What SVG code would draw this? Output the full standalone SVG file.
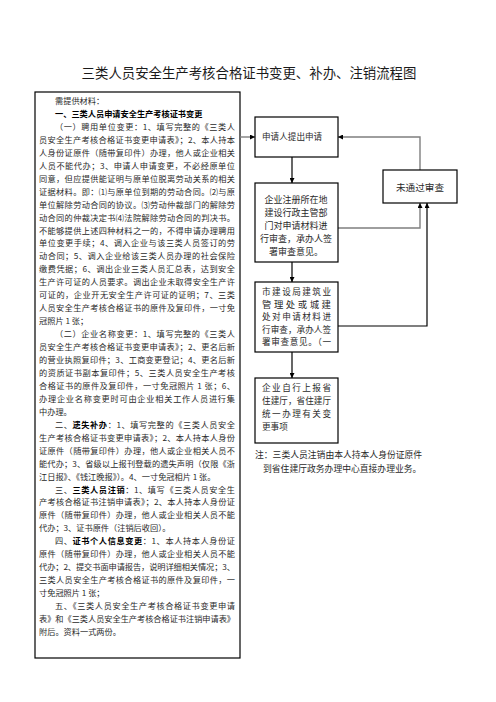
<svg xmlns="http://www.w3.org/2000/svg" width="496" height="702" viewBox="0 0 496 702">
<style>
text{font-family:"Noto Sans CJK SC","Noto Sans",sans-serif;fill:#2a2a2a}
.t{font-size:13.4px;fill:#1a1a1a}
.b{font-size:8.2px}
.bd{font-weight:bold;fill:#000}
.n{font-size:8.8px}
.box{fill:#fff;stroke:#000;stroke-width:1.2}
.cg{fill:none;stroke:#7f7f7f;stroke-width:1.4}
.ck{fill:none;stroke:#000;stroke-width:1.2}
</style>
<defs>
<marker id="ah" viewBox="0 0 10 10" refX="10" refY="5" markerWidth="5" markerHeight="5" markerUnits="userSpaceOnUse" orient="auto">
<path d="M0,0 L10,5 L0,10 Z" fill="#000"/>
</marker>
</defs>
<rect width="496" height="702" fill="#fff"/>
<text class="t" x="249" y="78" text-anchor="middle">三类人员安全生产考核合格证书变更、补办、注销流程图</text>

<g id="materials">
<rect class="box" x="35" y="92" width="205" height="566"/>
<g class="b">
<text x="55" y="104">需提供材料：</text>
<text x="55" y="116.95" class="bd">一、三类人员申请安全生产考核证书变更</text>
<text x="55" y="129.9" textLength="180" lengthAdjust="spacing">（一）聘用单位变更：1、填写完整的《三类人</text>
<text x="39" y="142.85" textLength="196" lengthAdjust="spacing">员安全生产考核合格证书变更申请表》；2、本人持本</text>
<text x="39" y="155.8" textLength="196" lengthAdjust="spacing">人身份证原件（随带复印件）办理，他人或企业相关</text>
<text x="39" y="168.75" textLength="196" lengthAdjust="spacing">人员不能代办；3、申请人申请变更，不必经原单位</text>
<text x="39" y="181.7" textLength="196" lengthAdjust="spacing">同意，但应提供能证明与原单位脱离劳动关系的相关</text>
<text x="39" y="194.65" textLength="196" lengthAdjust="spacing">证据材料。即：⑴与原单位到期的劳动合同。⑵与原</text>
<text x="39" y="207.6" textLength="196" lengthAdjust="spacing">单位解除劳动合同的协议。⑶劳动仲裁部门的解除劳</text>
<text x="39" y="220.55" textLength="196" lengthAdjust="spacing">动合同的仲裁决定书⑷法院解除劳动合同的判决书。</text>
<text x="39" y="233.5" textLength="196" lengthAdjust="spacing">不能够提供上述四种材料之一的，不得申请办理聘用</text>
<text x="39" y="246.45" textLength="196" lengthAdjust="spacing">单位变更手续；4、调入企业与该三类人员签订的劳</text>
<text x="39" y="259.4" textLength="196" lengthAdjust="spacing">动合同；5、调入企业给该三类人员办理的社会保险</text>
<text x="39" y="272.35" textLength="196" lengthAdjust="spacing">缴费凭据；6、调出企业三类人员汇总表，达到安全</text>
<text x="39" y="285.3" textLength="196" lengthAdjust="spacing">生产许可证的人员要求。调出企业未取得安全生产许</text>
<text x="39" y="298.25" textLength="196" lengthAdjust="spacing">可证的，企业开无安全生产许可证的证明；7、三类</text>
<text x="39" y="311.2" textLength="196" lengthAdjust="spacing">人员安全生产考核合格证书的原件及复印件，一寸免</text>
<text x="39" y="324.15">冠照片 1 张；</text>
<text x="55" y="337.1" textLength="180" lengthAdjust="spacing">（二）企业名称变更：1、填写完整的《三类人</text>
<text x="39" y="350.05" textLength="196" lengthAdjust="spacing">员安全生产考核合格证书变更申请表》；2、更名后新</text>
<text x="39" y="363" textLength="196" lengthAdjust="spacing">的营业执照复印件；3、工商变更登记；4、更名后新</text>
<text x="39" y="375.95" textLength="196" lengthAdjust="spacing">的资质证书副本复印件；5、三类人员安全生产考核</text>
<text x="39" y="388.9" textLength="196" lengthAdjust="spacing">合格证书的原件及复印件，一寸免冠照片 1 张；6、</text>
<text x="39" y="401.85" textLength="196" lengthAdjust="spacing">办理企业名称变更时可由企业相关工作人员进行集</text>
<text x="39" y="414.8">中办理。</text>
<text x="55" y="427.75" textLength="180" lengthAdjust="spacing">二、<tspan class="bd">遗失补办</tspan>：1、填写完整的《三类人员安全</text>
<text x="39" y="440.7" textLength="196" lengthAdjust="spacing">生产考核合格证书变更申请表》；2、本人持本人身份</text>
<text x="39" y="453.65" textLength="196" lengthAdjust="spacing">证原件（随带复印件）办理，他人或企业相关人员不</text>
<text x="39" y="466.6" textLength="196" lengthAdjust="spacing">能代办；3、省级以上报刊登载的遗失声明（仅限《浙</text>
<text x="39" y="479.55">江日报》、《钱江晚报》）。4、一寸免冠相片 1 张。</text>
<text x="55" y="492.5" textLength="180" lengthAdjust="spacing">三、<tspan class="bd">三类人员注销</tspan>：1、填写《三类人员安全生</text>
<text x="39" y="505.45" textLength="196" lengthAdjust="spacing">产考核合格证书注销申请表》；2、本人持本人身份证</text>
<text x="39" y="518.4" textLength="196" lengthAdjust="spacing">原件（随带复印件）办理，他人或企业相关人员不能</text>
<text x="39" y="531.35">代办；3、证书原件（注销后收回）。</text>
<text x="55" y="544.3" textLength="180" lengthAdjust="spacing">四、<tspan class="bd">证书个人信息变更</tspan>：1、本人持本人身份证</text>
<text x="39" y="557.25" textLength="196" lengthAdjust="spacing">原件（随带复印件）办理，他人或企业相关人员不能</text>
<text x="39" y="570.2" textLength="196" lengthAdjust="spacing">代办；2、提交书面申请报告，说明详细相关情况；3、</text>
<text x="39" y="583.15" textLength="196" lengthAdjust="spacing">三类人员安全生产考核合格证书的原件及复印件，一</text>
<text x="39" y="596.1">寸免冠照片 1 张；</text>
<text x="55" y="609.05" textLength="180" lengthAdjust="spacing">五、《三类人员安全生产考核合格证书变更申请</text>
<text x="39" y="622" textLength="196" lengthAdjust="spacing">表》和《三类人员安全生产考核合格证书注销申请表》</text>
<text x="39" y="634.95">附后。资料一式两份。</text>
</g>
</g>

<g id="connectors">
<path class="cg" d="M240,137 H255" marker-end="url(#ah)"/>
<path class="ck" d="M292,157 V183" marker-end="url(#ah)"/>
<path class="ck" d="M292,262 V282" marker-end="url(#ah)"/>
<path class="ck" d="M292,352 V378" marker-end="url(#ah)"/>
<path class="cg" d="M338,228 H420 V203" marker-end="url(#ah)"/>
<path class="ck" d="M338,326 H427 V203" marker-end="url(#ah)"/>
<path class="cg" d="M420,170 V137 H338" marker-end="url(#ah)"/>
</g>

<g id="apply">
<rect class="box" x="255" y="117" width="83" height="40"/>
<text x="262" y="140" style="font-size:8.6px">申请人提出申请</text>
</g>

<g id="review1">
<rect class="box" x="255" y="183" width="83" height="79"/>
<g style="font-size:9px" text-anchor="middle">
<text x="296" y="203">企业注册所在地</text>
<text x="296" y="216">建设行政主管部</text>
<text x="296" y="229">门对申请材料进</text>
<text x="296" y="242">行审查，承办人签</text>
<text x="296" y="255">署审查意见。</text>
</g>
</g>

<g id="fail">
<rect class="box" x="383" y="170" width="74" height="33"/>
<text x="420" y="190.5" style="font-size:9.6px" text-anchor="middle">未通过审查</text>
</g>

<g id="review2">
<rect class="box" x="255" y="282" width="83" height="70"/>
<g style="font-size:8.6px">
<text x="262" y="295" textLength="69" lengthAdjust="spacing">市建设局建筑业</text>
<text x="262" y="307.5" textLength="69" lengthAdjust="spacing" style="font-size:9.4px">管理处或城建</text>
<text x="262" y="320" textLength="69" lengthAdjust="spacing">处对申请材料进</text>
<text x="262" y="332.5" textLength="69" lengthAdjust="spacing">行审查，承办人签</text>
<text x="262" y="345" textLength="69" lengthAdjust="spacing">署审查意见。（一</text>
</g>
</g>

<g id="province">
<rect class="box" x="255" y="378" width="83" height="65"/>
<g style="font-size:8.6px">
<text x="262" y="391" textLength="69" lengthAdjust="spacing">企业自行上报省</text>
<text x="262" y="404" textLength="69" lengthAdjust="spacing">住建厅，省住建厅</text>
<text x="262" y="417" textLength="69" lengthAdjust="spacing">统一办理有关变</text>
<text x="262" y="430">更事项</text>
</g>
</g>

<g id="note" class="n">
<text x="255" y="458">注：三类人员注销由本人持本人身份证原件</text>
<text x="263" y="472">到省住建厅政务办理中心直接办理业务。</text>
</g>
</svg>
